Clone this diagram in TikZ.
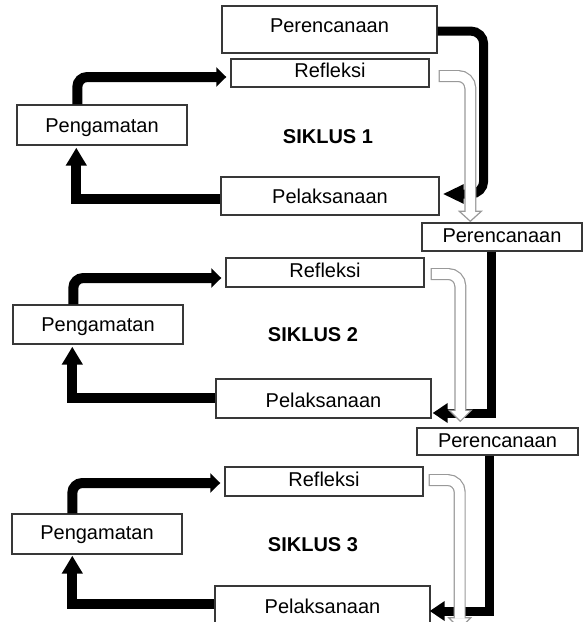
\documentclass[tikz,border=0pt]{standalone}
\usepackage{fontspec}
\setmainfont{Liberation Sans}
\usetikzlibrary{arrows.meta,calc}
\tikzset{
  box/.style={draw=black!78, line width=1.4pt, fill=white, inner sep=0pt,
    text height=14.3pt, text depth=0pt, font=\fontsize{20pt}{24pt}\selectfont},
  cyc/.style={font=\fontsize{20pt}{24pt}\selectfont\bfseries, inner sep=0pt},
  blk/.style={line width=10pt, black},
  tipR/.style={-{Triangle[length=10pt,width=19pt]}},
  tipU/.style={-{Triangle[length=18pt,width=20pt]}},
  tipL/.style={-{Triangle[length=#1,width=19pt]}},
  wout/.style={draw=black!40, line width=12pt, rounded corners=12pt},
  win/.style={draw=white, line width=9.6pt, rounded corners=12pt},
  whead/.style={draw=black!40, line width=1.2pt, fill=white, line join=miter},
}
\newcommand\wharrow[3]{%
  \draw[wout] (#1) -| ($(#2)+(0,-#3)$);
  \draw[whead] ($(#2)+(-11,-#3)$) -- ($(#2)+(11,-#3)$) -- (#2) -- cycle;
  \draw[win] ($(#1)+(1.2,0)$) -| ($(#2)+(0,-#3+1)$);
}
\begin{document}
\begin{tikzpicture}[x=1pt,y=-1pt]
\useasboundingbox (0,0) rectangle (583,622);
\clip (0,0) rectangle (583,622);

% cycle 1
\node[box, minimum width=215pt, minimum height=47pt, text depth=9pt] (P1) at (329.5,29.5) {Perencanaan};
\node[box, minimum width=198pt, minimum height=28pt, text depth=5pt] (R1) at (330,73) {Refleksi};
\node[box, minimum width=170pt, minimum height=40pt] (G1) at (102,125) {Pengamatan};
\node[box, minimum width=218pt, minimum height=38pt] (L1) at (330,196) {Pelaksanaan};
\node[cyc] (S1) at (328,137) {SIKLUS 1};

% cycle 2
\node[box, minimum width=160pt, minimum height=28pt, text depth=4pt] (P2) at (502,237) {Perencanaan};
\node[box, minimum width=198pt, minimum height=29pt, text depth=4pt] (R2) at (325,272.5) {Refleksi};
\node[box, minimum width=170pt, minimum height=39pt] (G2) at (98,324.5) {Pengamatan};
\node[box, minimum width=215pt, minimum height=39pt, text height=18.3pt] (L2) at (323.5,398.5) {Pelaksanaan};
\node[cyc] (S2) at (313,334.5) {SIKLUS 2};

% cycle 3
\node[box, minimum width=161pt, minimum height=27pt, text depth=3pt] (P3) at (497.5,441.5) {Perencanaan};
\node[box, minimum width=198pt, minimum height=29pt, text depth=4pt] (R3) at (324,481.5) {Refleksi};
\node[box, minimum width=170pt, minimum height=40pt, text depth=3pt] (G3) at (97,534) {Pengamatan};
\node[box, minimum width=215pt, minimum height=40pt] (L3) at (322.5,606) {Pelaksanaan};
\node[cyc] (S3) at (313,545) {SIKLUS 3};

% black connectors
\draw[blk, rounded corners=10pt, tipR] ($(G1.north west)+(61,0)$) |- ($(R1.west)+(-4,4)$);
\draw[blk, tipU] ($(L1.west)+(0,3)$) -| ($(G1.south west)+(60,2)$);
\draw[blk, line width=9pt, rounded corners=13pt, -{Triangle[length=21pt,width=18pt]}]
  ($(P1.east)+(0,1.5)$) -| ($(L1.east)+(44,-2)$) -- ($(L1.east)+(3,-2)$);

\draw[blk, rounded corners=10pt, tipR] ($(G2.north west)+(61,0)$) |- ($(R2.west)+(-4,5.5)$);
\draw[blk, tipU] ($(L2.west)+(0,-0.5)$) -| ($(G2.south west)+(60,2)$);
\draw[blk, line width=9pt, tipL=15pt] ($(P2.south west)+(70,0)$) |- ($(L2.east)+(1,14.5)$);

\draw[blk, rounded corners=10pt, tipR] ($(G3.north west)+(61,0)$) |- ($(R3.west)+(-4,1.5)$);
\draw[blk, tipU] ($(L3.west)+(0,-2)$) -| ($(G3.south west)+(61,1)$);
\draw[blk, line width=9pt, tipL=15pt] ($(P3.south west)+(73,0)$) |- ($(L3.east)+(-1,5)$);

% white connectors
\coordinate (w1s) at ($(R1.east)+(9,3)$);
\coordinate (w1t) at ($(P2.north west)+(49,-1)$);
\wharrow{w1s}{w1t}{10}
\coordinate (w2s) at ($(R2.east)+(6,1.5)$);
\coordinate (w2t) at ($(P3.north west)+(44,-6)$);
\wharrow{w2s}{w2t}{11}
\coordinate (w3s) at ($(R3.east)+(5,-1.5)$);
\coordinate (w3t) at ($(L3.south east)+(29,2)$);
\wharrow{w3s}{w3t}{11}
\end{tikzpicture}
\end{document}
